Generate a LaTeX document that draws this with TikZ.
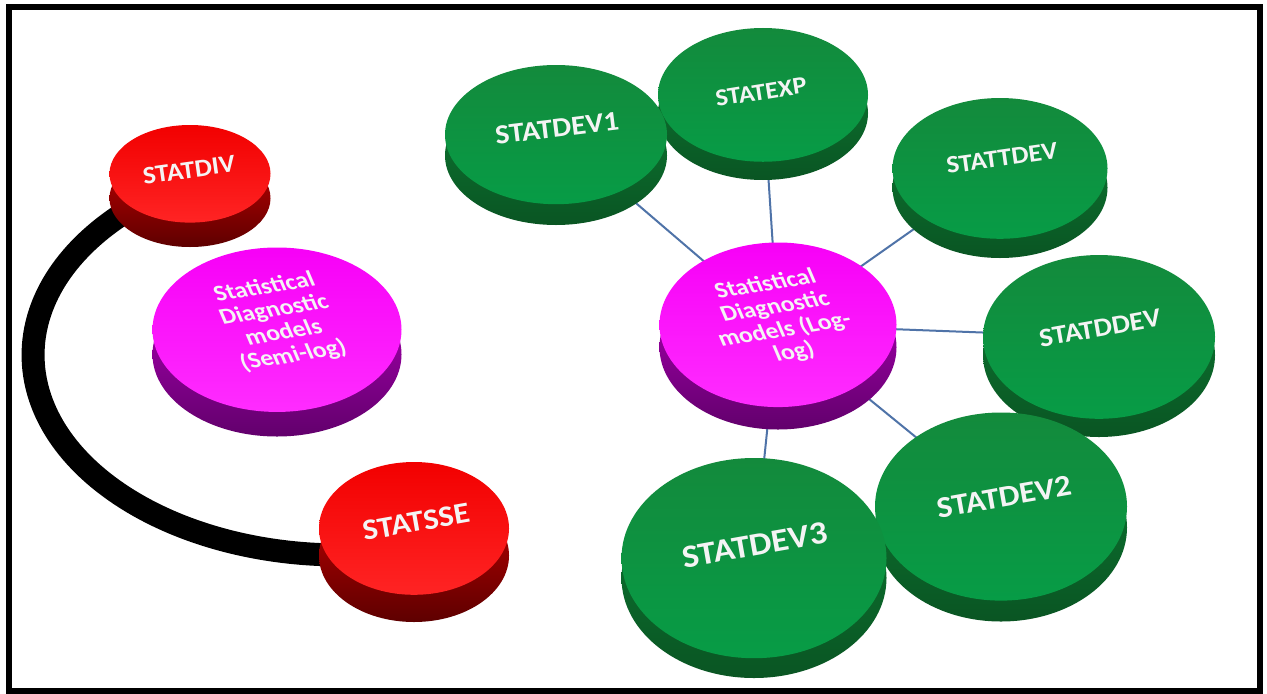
\documentclass[tikz,border=0pt]{standalone}
\usepackage{fontspec}
\setmainfont{Carlito}
\usetikzlibrary{shapes.geometric}
\pgfdeclarelayer{background}
\pgfsetlayers{background,main}
\definecolor{grT}{HTML}{138A3C}
\definecolor{grM}{HTML}{00731E}
\definecolor{grB}{HTML}{079C46}
\definecolor{grS1}{HTML}{0C7A33}
\definecolor{grS2}{HTML}{0A5523}
\definecolor{rdT}{HTML}{F20000}
\definecolor{rdM}{HTML}{EC0000}
\definecolor{rdB}{HTML}{FF2424}
\definecolor{rdS1}{HTML}{C40000}
\definecolor{rdS2}{HTML}{5E0000}
\definecolor{mgT}{HTML}{F700F7}
\definecolor{mgM}{HTML}{F000F0}
\definecolor{mgB}{HTML}{FF2CFF}
\definecolor{mgS1}{HTML}{B400BC}
\definecolor{mgS2}{HTML}{62006C}
\definecolor{connc}{HTML}{4F73A8}
\definecolor{lbltext}{HTML}{F4F4F4}
\tikzset{
  disc/.style={ellipse, inner sep=0pt, draw=none},
  grntop/.style={top color=grT, middle color=grM, bottom color=grB},
  grnside/.style={top color=grS1, bottom color=grS2},
  redtop/.style={top color=rdT, middle color=rdM, bottom color=rdB},
  redside/.style={top color=rdS1, bottom color=rdS2},
  magtop/.style={top color=mgT, middle color=mgM, bottom color=mgB},
  magside/.style={top color=mgS1, bottom color=mgS2},
  conn/.style={draw=connc, line width=0.04cm},
  lbl/.style={text=lbltext, inner sep=0pt},
}
\newcommand\mydisk[7]{%
  \pgfmathsetmacro\dskd{#7*#5}%
  \pgfmathsetmacro\dskw{0.02*#4}%
  \pgfmathsetmacro\dskh{0.02*(#5-\dskd)}%
  \node[disc, minimum width=\dskw cm, minimum height=\dskh cm, #6side] (#1side) at (#2,#3+0.5*\dskd) {};
  \node[disc, minimum width=\dskw cm, minimum height=\dskh cm, #6top] (#1) at (#2,#3-0.5*\dskd) {};
}
\newcommand\mylbl[6]{%
  \node[lbl, font=\bfseries\fontsize{#4}{#4}\selectfont, rotate=#5, xscale=1.1] (#1) at (#2,#3) {#6};
}
\newcommand\mymlbl[4]{%
  \node[lbl, align=center, font=\bfseries\fontsize{13}{13.6}\selectfont, rotate=9, xslant=-0.25, xscale=1.1] (#1) at (#2,#3) {#4};
}
\begin{document}
\begin{tikzpicture}[x=0.02cm, y=-0.02cm]
\useasboundingbox (0,0) rectangle (1267,693);

% disks
\mydisk{div}{190}{186}{161}{122}{red}{0.2}
\mydisk{semi}{277}{342}{249}{189}{mag}{0.13}
\mydisk{sse}{414}{542}{190}{160}{red}{0.17}
\mydisk{exp}{763}{104}{210}{152}{grn}{0.12}
\mydisk{devone}{556}{145}{222}{160}{grn}{0.13}
\mydisk{tdev}{1000}{178}{215}{160}{grn}{0.12}
\mydisk{ddev}{1099}{346}{232}{182}{grn}{0.1}
\mydisk{loglog}{778}{336}{237}{187}{mag}{0.12}
\mydisk{devtwo}{1001}{517}{252}{209}{grn}{0.1}
\mydisk{devthree}{754}{568}{265}{220}{grn}{0.09}

% background, connectors and arc behind the disks
\begin{pgfonlayer}{background}
  \fill[white] (0,0) rectangle (1267,693);
  \draw[line width=0.12cm] (9,7) rectangle (1260,690.5);
  \coordinate (arcc) at (340,355);
  \draw[line width=0.46cm, black] (arcc) ++(135:6.14cm and 4cm)
     arc[start angle=135, end angle=270, x radius=6.14cm, y radius=4cm];
  \draw[conn] (loglog.center) -- (devone.center);
  \draw[conn] (loglog.center) -- (exp.center);
  \draw[conn] (loglog.center) -- (tdev.center);
  \draw[conn] (loglog.center) -- (ddev.center);
  \draw[conn] (loglog.center) -- (devtwo.center);
  \draw[conn] (loglog.center) -- (devthree.center);
\end{pgfonlayer}

% labels
\mylbl{tdiv}{189}{170}{14.2}{8}{STATDIV}
\mylbl{texp}{761}{92}{13.7}{9}{STATEXP}
\mylbl{tdevone}{557}{128}{15.6}{7}{STATDEV1}
\mylbl{ttdev}{1002}{158}{14.1}{8}{STATTDEV}
\mylbl{tddev}{1100}{328}{15}{10}{STATDDEV}
\mylbl{tdevtwo}{1004}{497}{17.1}{10}{STATDEV2}
\mylbl{tsse}{416}{522}{16.8}{10}{STATSSE}
\mylbl{tdevthree}{755}{545}{18.4}{10}{STATDEV3}
\mymlbl{tsemi}{279}{322}{Statistical\\Diagnostic\\models\\(Semi-log)}
\mymlbl{tlog}{780}{319}{Statistical\\Diagnostic\\models (Log-\\log)}
\end{tikzpicture}
\end{document}
